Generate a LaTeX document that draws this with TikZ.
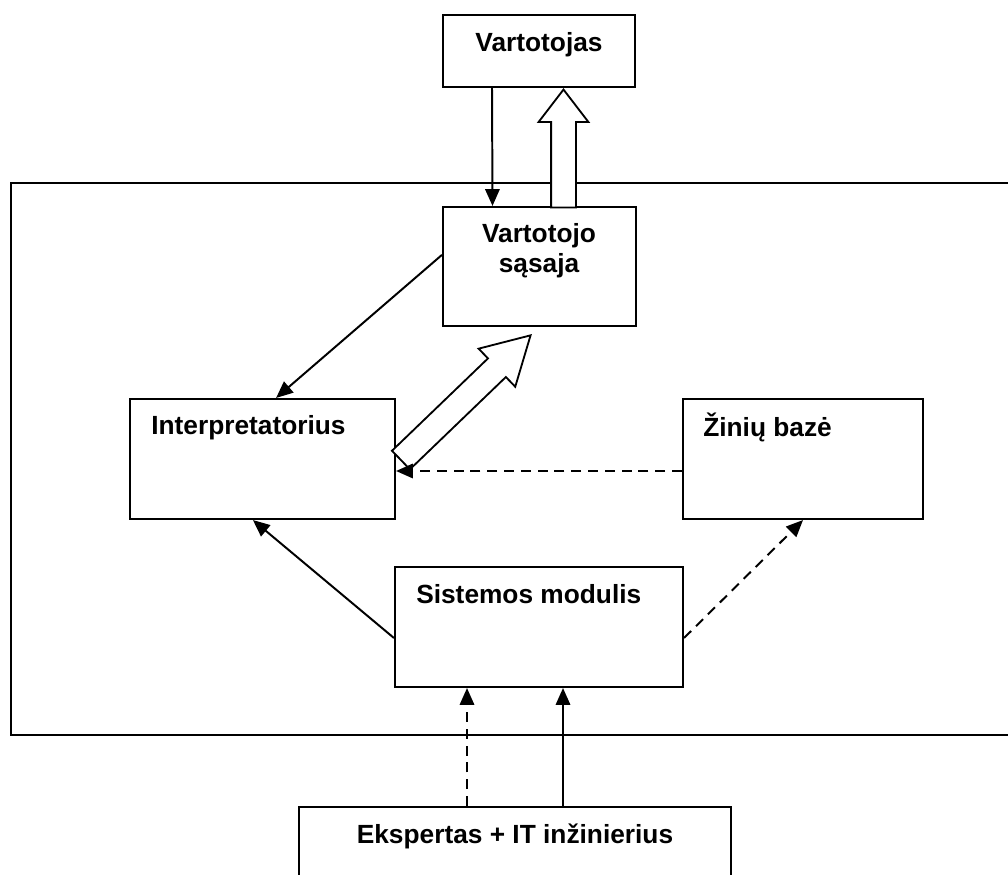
\documentclass[tikz,border=0pt]{standalone}
\usepackage{fontspec}
\setmainfont{Liberation Sans}
\usetikzlibrary{arrows.meta,shapes.arrows,calc}

\begin{document}
\begin{tikzpicture}[
    box/.style={draw, rectangle, line width=1.5pt, inner sep=0pt},
    lbl/.style={font=\fontsize{18.7}{21.5}\selectfont\bfseries, inner sep=0pt},
    arr/.style={line width=1.4pt, -{Triangle[length=0.42cm, width=0.36cm]}},
    darr/.style={arr, dash pattern=on 0.25cm off 0.17cm},
    hollow/.style={single arrow, draw, fill=white, line width=1.3pt, inner sep=0pt,
        text depth=0pt, allow upside down, sloped, anchor=tip}
]
    \useasboundingbox (0, 0) rectangle (25.2, 21.85);
    \clip (0, 0) rectangle (25.2, 21.85);

    % --- outer frame ---
    \draw[line width=1.6pt] (0.275, 3.475) rectangle (26, 17.275);

    % --- boxes ---
    \node[box, minimum width=4.8cm, minimum height=1.8cm] (vart) at (13.475, 20.575) {};
    \node[box, minimum width=4.825cm, minimum height=2.975cm] (sasaja) at (13.4875, 15.1875) {};
    \node[box, minimum width=6.625cm, minimum height=3cm] (interp) at (6.5625, 10.375) {};
    \node[box, minimum width=6cm, minimum height=3cm] (zinios) at (20.075, 10.375) {};
    \node[box, minimum width=7.2cm, minimum height=3cm] (sis) at (13.475, 6.175) {};
    \node[box, minimum width=10.8cm, minimum height=3cm] (eksp) at (12.875, 0.175) {};

    % --- texts ---
    \node[lbl, anchor=base] (tvart) at (13.475, 20.55) {Vartotojas};
    \node[lbl, anchor=north, align=center] (tsasaja) at (13.475, 16.275) {Vartotojo\\sąsaja};
    \node[lbl, anchor=base west] (tinterp) at (3.775, 10.975) {Interpretatorius};
    \node[lbl, anchor=base west] (tzinios) at (17.575, 10.925) {Žinių bazė};
    \node[lbl, anchor=base west] (tsis) at (10.4, 6.75) {Sistemos modulis};
    \node[lbl, anchor=base] (teksp) at (12.875, 0.775) {Ekspertas + IT inžinierius};

    % --- hollow arrows ---
    \coordinate (hu1) at ([xshift=0.6cm]sasaja.north);
    \coordinate (hu2) at (hu1 |- vart.south);
    \path let \p1 = ($(hu2)-(hu1)$), \n1 = {veclen(\x1,\y1)} in
        (hu1) -- node[hollow, pos=1, minimum height=\n1, text height=0.575cm,
            single arrow head extend=0.3125cm, single arrow tip angle=75] (hup) {} (hu2);

    \coordinate (hd1) at ([xshift=0.15cm]interp.east);
    \coordinate (hd2) at ([shift={(-0.19cm,-0.175cm)}]sasaja.south);
    \path let \p1 = ($(hd2)-(hd1)$), \n1 = {veclen(\x1,\y1)} in
        (hd1) -- node[hollow, pos=1, minimum height=\n1, text height=0.6cm,
            single arrow head extend=0.3375cm, single arrow tip angle=59] (hdiag) {} (hd2);

    % --- connectors ---
    \draw[arr] ([xshift=-1.175cm]vart.south) -- ([xshift=-1.175cm]sasaja.north);
    \draw[arr] ([yshift=0.29cm]sasaja.west) -- ([xshift=0.34cm]interp.north);
    \draw[darr] ([yshift=-0.3cm]zinios.west) -- ([yshift=-0.3cm]interp.east);
    \draw[arr] ([yshift=-0.275cm]sis.west) -- ([xshift=-0.24cm]interp.south);
    \draw[darr] ([yshift=-0.275cm]sis.east) -- (zinios.south);

    \coordinate (e1) at ([xshift=-1.2cm]eksp.north);
    \coordinate (e2) at ([xshift=1.2cm]eksp.north);
    \draw[darr] (e1) -- (e1 |- sis.south);
    \draw[arr] (e2) -- (e2 |- sis.south);
\end{tikzpicture}
\end{document}
